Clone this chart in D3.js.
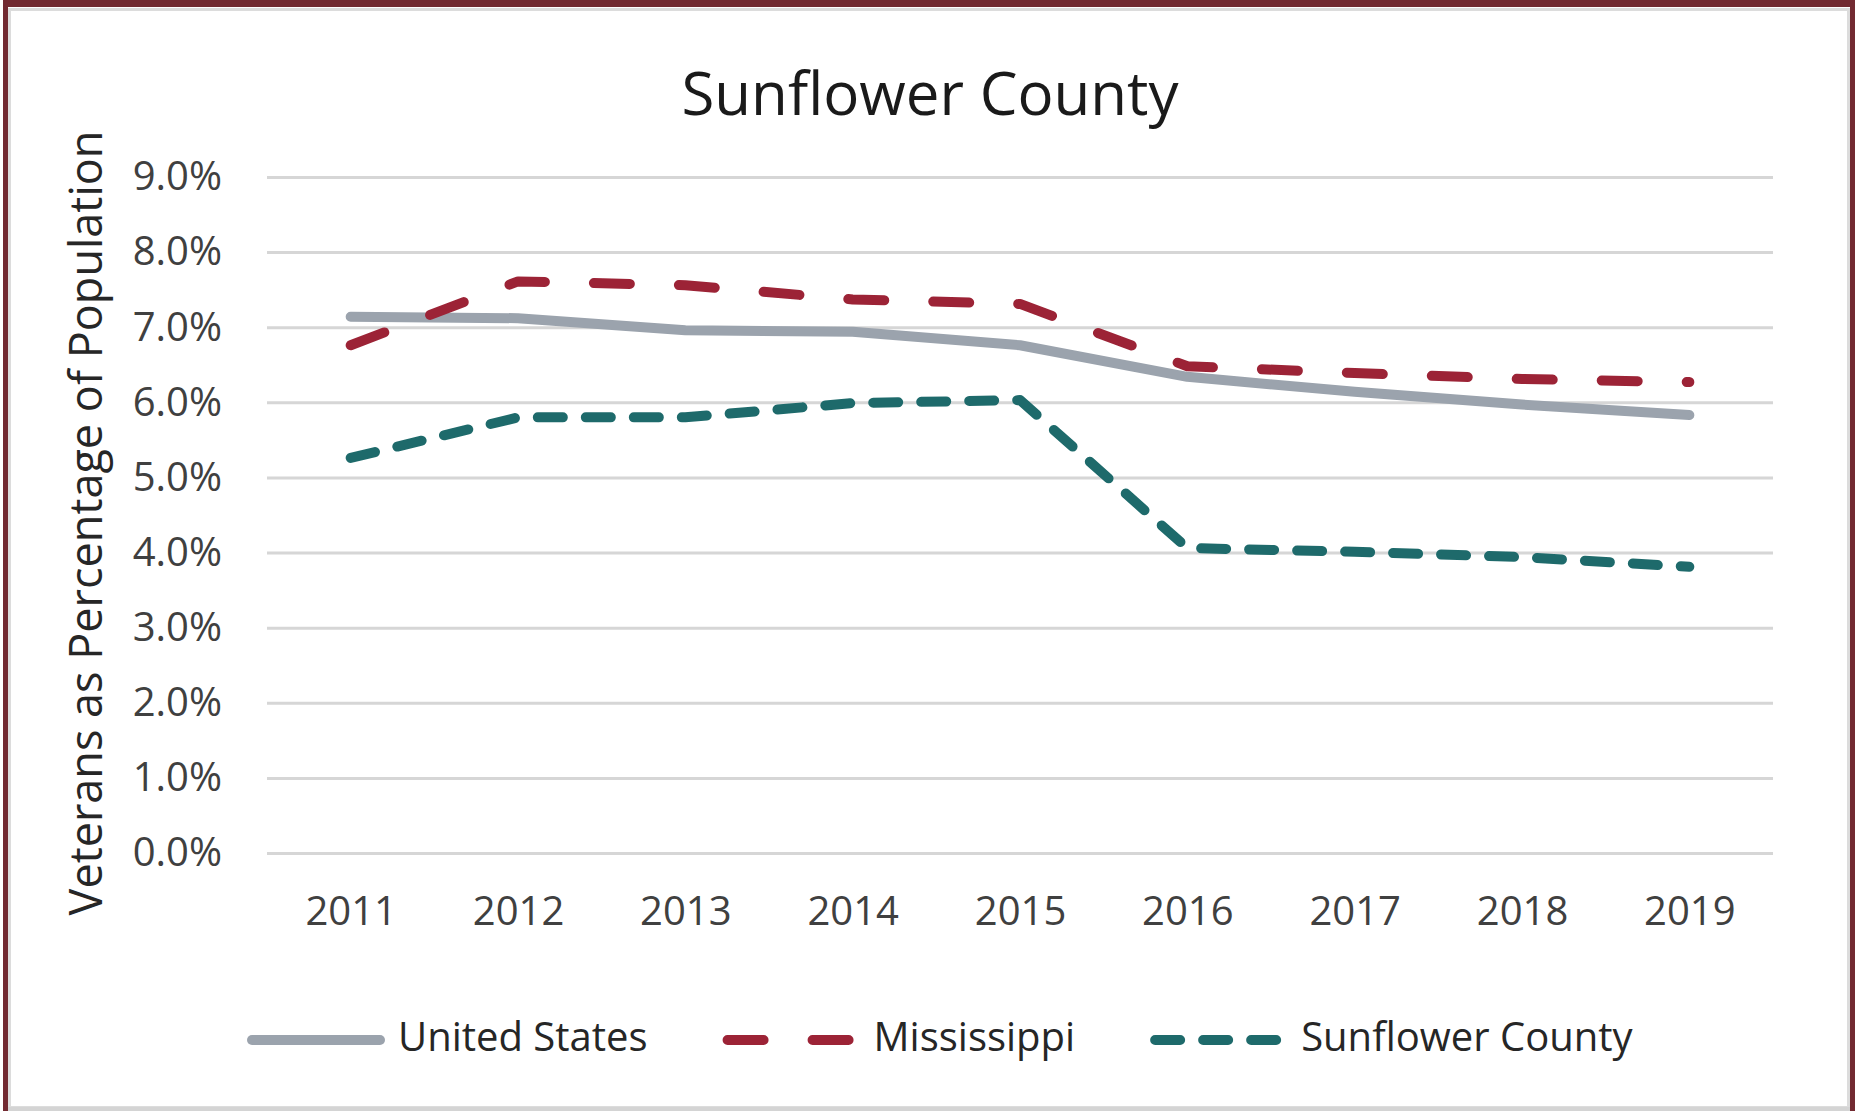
<!DOCTYPE html>
<html>
<head>
<meta charset="utf-8">
<script src="https://cdn.jsdelivr.net/npm/d3@7"></script>
<style>
  body { margin: 0; background: #fff; }
  text { font-family: 'Open Sans', 'Noto Sans', sans-serif; }
</style>
</head>
<body>
<svg width="1862" height="1111"></svg>
<script>
// data (percent of population)
var years = [2011, 2012, 2013, 2014, 2015, 2016, 2017, 2018, 2019];
var unitedStates = [7.14, 7.12, 6.96, 6.94, 6.76, 6.34, 6.14, 5.97, 5.83];
var mississippi = [6.76, 7.61, 7.56, 7.37, 7.31, 6.48, 6.39, 6.31, 6.27];
var sunflowerCounty = [5.26, 5.80, 5.80, 5.99, 6.03, 4.06, 4.01, 3.94, 3.81];
var yTicks = [0, 1, 2, 3, 4, 5, 6, 7, 8, 9];
var seriesNames = ['United States', 'Mississippi', 'Sunflower County'];

var plotLeft = 267, plotRight = 1773, plotTop = 177, plotBottom = 853;
var svg = d3.select('svg');

// frame
svg.append('rect').attr('x', 0).attr('y', 0).attr('width', 1862).attr('height', 1111).style('fill', '#fff');
svg.append('rect').attr('x', 9.5).attr('y', 9.5).attr('width', 1839).attr('height', 1098)
  .style('fill', 'none').style('stroke', '#dcdcdc').style('stroke-width', 3);
svg.append('rect').attr('x', 3).attr('y', 0).attr('width', 1852).attr('height', 7).style('fill', '#722a31');
svg.append('rect').attr('x', 3).attr('y', 0).attr('width', 5).attr('height', 1111).style('fill', '#722a31');
svg.append('rect').attr('x', 1850).attr('y', 0).attr('width', 5).attr('height', 1111).style('fill', '#722a31');
svg.append('rect').attr('x', 8).attr('y', 1107).attr('width', 1842).attr('height', 4).style('fill', '#d4d4d4');

var x = d3.scalePoint().domain(years).range([plotLeft, plotRight]).padding(0.5);
var y = d3.scaleLinear().domain([0, 9]).range([plotBottom, plotTop]);

// y axis with gridlines
var yAxis = svg.append('g')
  .attr('transform', 'translate(' + plotLeft + ',0)')
  .call(d3.axisLeft(y).tickValues(yTicks).tickSize(-(plotRight - plotLeft)).tickPadding(45)
    .tickFormat(function (d) { return d.toFixed(1) + '%'; }));
yAxis.select('.domain').remove();
yAxis.selectAll('line').style('stroke', '#d6d6d6').style('stroke-width', 3);
yAxis.selectAll('text').style('font-size', '40px').style('fill', '#404040');

// x axis labels
var xAxis = svg.append('g')
  .attr('transform', 'translate(0,' + plotBottom + ')')
  .call(d3.axisBottom(x).tickSize(0).tickPadding(44));
xAxis.select('.domain').remove();
xAxis.selectAll('text').style('font-size', '40px').style('fill', '#404040');

// title
svg.append('text')
  .attr('x', 930).attr('y', 115)
  .attr('text-anchor', 'middle')
  .style('font-size', '60px').style('fill', '#1a1a1a')
  .text('Sunflower County');

// y axis title
svg.append('text')
  .attr('transform', 'translate(102,523)rotate(-90)')
  .attr('text-anchor', 'middle')
  .style('font-size', '45px').style('fill', '#262626')
  .text('Veterans as Percentage of Population');

var series = [
  { name: seriesNames[0], values: unitedStates, color: '#9ba3ad', dash: null },
  { name: seriesNames[1], values: mississippi, color: '#9c2336', dash: '36,49' },
  { name: seriesNames[2], values: sunflowerCounty, color: '#1e6a6b', dash: '25,23' }
];

var line = d3.line()
  .x(function (d, i) { return x(years[i]); })
  .y(function (d) { return y(d); });

series.forEach(function (s) {
  svg.append('path')
    .datum(s.values)
    .attr('d', line)
    .style('fill', 'none')
    .style('stroke', s.color)
    .style('stroke-width', 10)
    .style('stroke-linejoin', 'round')
    .style('stroke-linecap', 'round')
    .style('stroke-dasharray', s.dash);
});

// legend
var legendY = 1040;
var lx = 252;
series.forEach(function (s) {
  svg.append('line')
    .attr('x1', lx).attr('x2', lx + 128)
    .attr('y1', legendY).attr('y2', legendY)
    .style('stroke', s.color)
    .style('stroke-width', 10)
    .style('stroke-linecap', 'round')
    .style('stroke-dasharray', s.dash);
  var t = svg.append('text')
    .attr('x', lx + 146).attr('y', legendY + 11)
    .style('font-size', '40px').style('fill', '#262626')
    .text(s.name);
  lx += 146 + t.node().getComputedTextLength() + 80;
});
</script>
</body>
</html>
